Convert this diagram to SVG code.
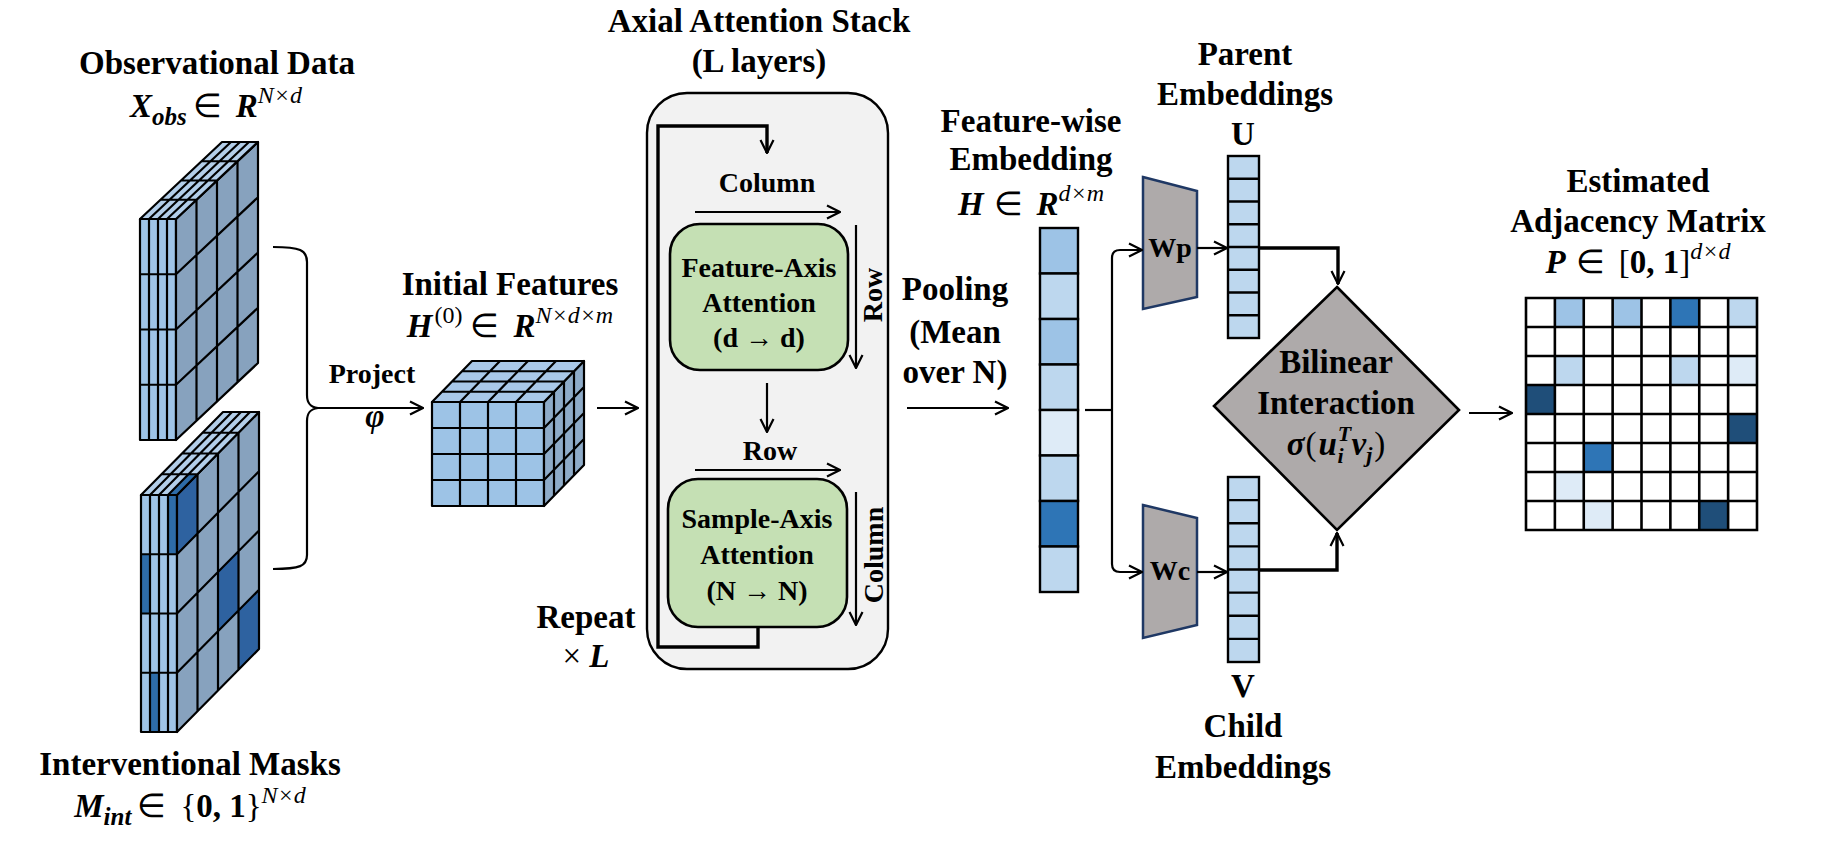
<svg xmlns="http://www.w3.org/2000/svg" xmlns:xlink="http://www.w3.org/1999/xlink" width="1827" height="841" viewBox="0 0 1827 841">
<style>
.t{font-family:"Liberation Serif","Times New Roman",serif;font-weight:bold;font-size:33px;text-anchor:middle;fill:#000}
.s{font-size:28px}
.bi{font-style:italic}
.r{font-weight:normal;font-style:normal}
.sp{font-size:24px;font-weight:normal;font-style:italic}
.ln{fill:none;stroke:#000;stroke-width:2.2}
.thick{stroke-width:3.4}
.arr{marker-end:url(#ah)}
.cell{stroke:#000;stroke-width:2.4}
.trap{fill:#aeaaaa;stroke:#1f3864;stroke-width:2.5}
</style>
<defs>
<marker id="ah" viewBox="0 0 16 16" refX="15" refY="8" markerWidth="16" markerHeight="16" markerUnits="userSpaceOnUse" orient="auto">
<path d="M2,1.5 L15,8 L2,14.5" fill="none" stroke="#000" stroke-width="2.2"/>
</marker>
<path id="gl" d="M0,0H4V4H0Z M1,0V4 M2,0V4 M3,0V4 M0,1H4 M0,2H4 M0,3H4" fill="none" stroke="#000" stroke-width="2.2" stroke-linejoin="round" vector-effect="non-scaling-stroke"/>
</defs>

<g id="observational-data">
<g transform="matrix(9,0,0,55.25,140,219)"><rect width="4" height="4" fill="#9fc4e7"/><use href="#gl"/></g>
<g transform="matrix(20.5,-19.25,0,55.25,176,219)"><rect width="4" height="4" fill="#87a2be"/><use href="#gl"/></g>
<g transform="matrix(9,0,20.5,-19.25,140,219)"><rect width="4" height="4" fill="#b3cee9"/><use href="#gl"/></g>
<text class="t" x="217" y="74">Observational Data</text>
<text class="t bi" x="216" y="117">X<tspan font-size="25" dy="8">obs</tspan><tspan class="r" dy="-8" dx="6">∈</tspan><tspan dx="14">R</tspan><tspan class="sp" dy="-14">N×d</tspan></text>
</g>

<g id="interventional-masks">
<g transform="matrix(9,0,0,59.25,141,495)"><rect width="4" height="4" fill="#9fc4e7"/><rect x="3" y="0" width="1" height="1" fill="#2e6ca8"/><rect x="0" y="1" width="1" height="1" fill="#2e6ca8"/><rect x="1" y="3" width="1" height="1" fill="#2e6ca8"/><use href="#gl"/></g>
<g transform="matrix(20.5,-20.75,0,59.25,177,495)"><rect width="4" height="4" fill="#87a2be"/><rect x="0" y="0" width="1" height="1" fill="#2e62a0"/><rect x="2" y="2" width="1" height="1" fill="#2e62a0"/><rect x="3" y="3" width="1" height="1" fill="#2e62a0"/><use href="#gl"/></g>
<g transform="matrix(9,0,20.5,-20.75,141,495)"><rect width="4" height="4" fill="#b3cee9"/><rect x="3" y="0" width="1" height="1" fill="#2e6ca8"/><use href="#gl"/></g>
<text class="t" x="190" y="775">Interventional Masks</text>
<text class="t bi" x="190" y="817">M<tspan font-size="25" dy="8">int</tspan><tspan class="r" dy="-8" dx="6">∈</tspan><tspan class="r" dx="14">{</tspan><tspan font-style="normal">0, 1</tspan><tspan class="r">}</tspan><tspan class="sp" dy="-14">N×d</tspan></text>
</g>

<g id="project-label">
<text class="t s" x="372" y="383">Project</text>
<text class="t bi" x="375" y="427" font-size="32">φ</text>
</g>

<g id="initial-features">
<g transform="matrix(28,0,0,26,432,402)"><rect width="4" height="4" fill="#9dc3e6"/><use href="#gl"/></g>
<g transform="matrix(10,-10.25,0,26,544,402)"><rect width="4" height="4" fill="#8eabc8"/><use href="#gl"/></g>
<g transform="matrix(28,0,10,-10.25,432,402)"><rect width="4" height="4" fill="#a9c8e8"/><use href="#gl"/></g>
<text class="t" x="510" y="295">Initial Features</text>
<text class="t bi" x="510" y="337">H<tspan class="r" font-size="24" dy="-14" dx="2">(0)</tspan><tspan class="r" dy="14" dx="8">∈</tspan><tspan dx="14">R</tspan><tspan class="sp" dy="-14">N×d×m</tspan></text>
</g>

<g id="axial-attention-stack">
<text class="t" x="759" y="32">Axial Attention Stack</text>
<text class="t" x="759" y="72">(L layers)</text>
<rect x="647" y="93" width="241" height="576" rx="40" fill="#f2f2f2" stroke="#000" stroke-width="2.4"/>
</g>

<g id="feature-axis-attention">
<rect x="670" y="224" width="178" height="146" rx="30" fill="#c5e0b4" stroke="#000" stroke-width="2.6"/>
<text class="t s" x="759" y="277">Feature-Axis</text>
<text class="t s" x="759" y="312">Attention</text>
<text class="t s" x="759" y="347">(d <tspan class="r">→</tspan> d)</text>
</g>

<g id="sample-axis-attention">
<rect x="668" y="479" width="179" height="148" rx="30" fill="#c5e0b4" stroke="#000" stroke-width="2.6"/>
<text class="t s" x="757" y="528">Sample-Axis</text>
<text class="t s" x="757" y="564">Attention</text>
<text class="t s" x="757" y="600">(N <tspan class="r">→</tspan> N)</text>
</g>

<g id="axis-labels">
<text class="t s" x="767" y="192">Column</text>
<text class="t s" x="770" y="460">Row</text>
<text class="t s" transform="translate(882,295) rotate(-90)">Row</text>
<text class="t s" transform="translate(883,555) rotate(-90)">Column</text>
<text class="t" x="586" y="628">Repeat</text>
<text class="t" x="586" y="667"><tspan class="r">×</tspan> <tspan font-style="italic">L</tspan></text>
<text class="t" x="955" y="300">Pooling</text>
<text class="t" x="955" y="343">(Mean</text>
<text class="t" x="955" y="383">over N)</text>
</g>

<g id="feature-wise-embedding">
<rect class="cell" x="1040" y="228" width="38" height="45.5" fill="#9dc3e6"/>
<rect class="cell" x="1040" y="273.5" width="38" height="45.5" fill="#bdd7ee"/>
<rect class="cell" x="1040" y="319" width="38" height="45.5" fill="#9dc3e6"/>
<rect class="cell" x="1040" y="364.5" width="38" height="45.5" fill="#bdd7ee"/>
<rect class="cell" x="1040" y="410" width="38" height="45.5" fill="#deebf7"/>
<rect class="cell" x="1040" y="455.5" width="38" height="45.5" fill="#bdd7ee"/>
<rect class="cell" x="1040" y="501" width="38" height="45.5" fill="#2e75b6"/>
<rect class="cell" x="1040" y="546.5" width="38" height="45.5" fill="#bdd7ee"/>
<text class="t" x="1031" y="132">Feature-wise</text>
<text class="t" x="1031" y="170">Embedding</text>
<text class="t bi" x="1031" y="215">H<tspan class="r" dx="10">∈</tspan><tspan dx="14">R</tspan><tspan class="sp" dy="-14">d×m</tspan></text>
</g>

<g id="wp">
<polygon class="trap" points="1143,177 1197,191 1197,297 1143,309"/>
<text class="t s" x="1170" y="257">Wp</text>
</g>

<g id="wc">
<polygon class="trap" points="1143,505 1197,518 1197,625 1143,638"/>
<text class="t s" x="1170" y="580">Wc</text>
</g>

<g id="parent-embeddings">
<g transform="translate(1228,156)">
<rect class="cell" x="0" y="0" width="31" height="182" fill="#bdd7ee"/>
<path d="M0,22.75H31 M0,45.5H31 M0,68.25H31 M0,91H31 M0,113.75H31 M0,136.5H31 M0,159.25H31" class="cell"/>
</g>
<text class="t" x="1245" y="65">Parent</text>
<text class="t" x="1245" y="105">Embeddings</text>
<text class="t" x="1243" y="145">U</text>
</g>

<g id="child-embeddings">
<g transform="translate(1228,477)">
<rect class="cell" x="0" y="0" width="31" height="185" fill="#bdd7ee"/>
<path d="M0,23.1H31 M0,46.25H31 M0,69.4H31 M0,92.5H31 M0,115.6H31 M0,138.75H31 M0,161.9H31" class="cell"/>
</g>
<text class="t" x="1243" y="697">V</text>
<text class="t" x="1243" y="737">Child</text>
<text class="t" x="1243" y="778">Embeddings</text>
</g>

<g id="bilinear-interaction">
<polygon points="1337,287 1459,410 1337,530 1214,406" fill="#aeaaaa" stroke="#000" stroke-width="2.6"/>
<text class="t" x="1336" y="373">Bilinear</text>
<text class="t" x="1336" y="414">Interaction</text>
<text class="t bi" x="1336" y="455">σ<tspan class="r" dx="1">(</tspan><tspan dx="2">u</tspan><tspan font-size="22" dy="-14" dx="1">T</tspan><tspan font-size="22" dx="-13" dy="22">i</tspan><tspan dy="-8" dx="8">v</tspan><tspan font-size="22" dy="7">j</tspan><tspan class="r" dy="-7" dx="2">)</tspan></text>
</g>

<g id="adjacency-matrix">
<rect x="1526" y="298" width="231" height="232" fill="#fff"/>
<g transform="translate(1526,298)">
<rect x="28.875" y="0" width="28.875" height="29" fill="#9dc3e6"/>
<rect x="86.625" y="0" width="28.875" height="29" fill="#9dc3e6"/>
<rect x="144.375" y="0" width="28.875" height="29" fill="#2e75b6"/>
<rect x="202.125" y="0" width="28.875" height="29" fill="#bdd7ee"/>
<rect x="28.875" y="58" width="28.875" height="29" fill="#bdd7ee"/>
<rect x="144.375" y="58" width="28.875" height="29" fill="#bdd7ee"/>
<rect x="202.125" y="58" width="28.875" height="29" fill="#deebf7"/>
<rect x="0" y="87" width="28.875" height="29" fill="#1f4e79"/>
<rect x="202.125" y="116" width="28.875" height="29" fill="#1f4e79"/>
<rect x="57.75" y="145" width="28.875" height="29" fill="#2e75b6"/>
<rect x="28.875" y="174" width="28.875" height="29" fill="#deebf7"/>
<rect x="57.75" y="203" width="28.875" height="29" fill="#deebf7"/>
<rect x="173.25" y="203" width="28.875" height="29" fill="#1f4e79"/>
<path d="M0,0H231V232H0Z M28.875,0V232 M57.75,0V232 M86.625,0V232 M115.5,0V232 M144.375,0V232 M173.25,0V232 M202.125,0V232 M0,29H231 M0,58H231 M0,87H231 M0,116H231 M0,145H231 M0,174H231 M0,203H231" fill="none" stroke="#000" stroke-width="2.6"/>
</g>
<text class="t" x="1638" y="192">Estimated</text>
<text class="t" x="1638" y="232">Adjacency Matrix</text>
<text class="t bi" x="1638" y="273">P<tspan class="r" dx="10">∈</tspan><tspan class="r" dx="14">[</tspan><tspan font-style="normal">0, 1</tspan><tspan class="r">]</tspan><tspan class="sp" dy="-14">d×d</tspan></text>
</g>

<g id="connectors">
<path class="ln" d="M273,247 C300,247 307,250 307,262 L307,395 C307,403 310,407 318,408 C310,409 307,413 307,421 L307,555 C307,566 300,569 273,569"/>
<path class="ln arr" d="M316,408 L423,408"/>
<path class="ln arr" d="M597,408 L638,408"/>
<path class="ln thick arr" d="M758,627 L758,647 L658,647 L658,126 L767,126 L767,153"/>
<path class="ln arr" d="M695,212 L840,212"/>
<path class="ln arr" d="M856,225 L856,368"/>
<path class="ln arr" d="M767,383 L767,432"/>
<path class="ln arr" d="M695,470 L840,470"/>
<path class="ln arr" d="M856,492 L856,625"/>
<path class="ln arr" d="M907,408 L1008,408"/>
<path class="ln" d="M1085,410 L1112,410"/>
<path class="ln arr" d="M1112,410 L1112,258 Q1112,250 1120,250 L1142,250"/>
<path class="ln arr" d="M1112,410 L1112,564 Q1112,572 1120,572 L1142,572"/>
<path class="ln arr" d="M1197,248 L1227,248"/>
<path class="ln arr" d="M1197,572 L1227,572"/>
<path class="ln thick arr" d="M1259,248 L1338,248 L1338,284"/>
<path class="ln thick arr" d="M1259,570 L1337,570 L1337,533"/>
<path class="ln arr" d="M1469,413 L1512,413"/>
</g>
</svg>
